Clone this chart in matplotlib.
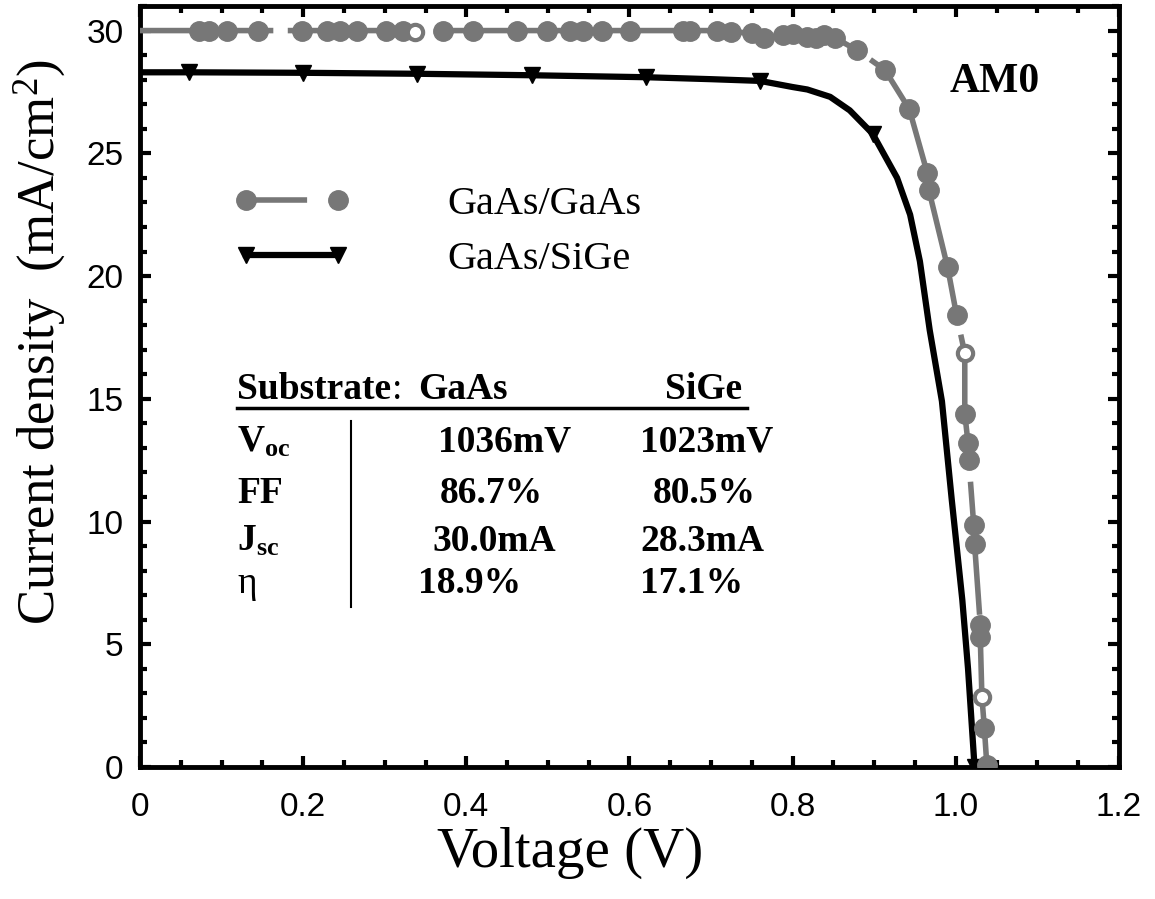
import matplotlib
matplotlib.use("Agg")
import matplotlib.pyplot as plt
from matplotlib.lines import Line2D

plt.rcParams['font.family'] = ['Liberation Sans', 'DejaVu Sans']
plt.rcParams['mathtext.fontset'] = 'custom'
plt.rcParams['mathtext.rm'] = 'Liberation Serif'
plt.rcParams['mathtext.bf'] = 'Liberation Serif:bold'
plt.rcParams['mathtext.it'] = 'Liberation Serif:italic'

# GaAs/GaAs cell
gaas_v = [0.0, 0.072, 0.084, 0.107, 0.145, 0.199, 0.229, 0.245, 0.266, 0.302,
          0.322, 0.337, 0.371, 0.408, 0.462, 0.499, 0.527, 0.543, 0.566, 0.601,
          0.666, 0.674, 0.707, 0.724, 0.750, 0.765, 0.788, 0.800, 0.818, 0.829,
          0.838, 0.852, 0.879, 0.913, 0.943, 0.965, 0.967, 0.990, 1.001, 1.011,
          1.011, 1.015, 1.016, 1.022, 1.023, 1.030, 1.030, 1.032, 1.035, 1.038]
gaas_j = [30.0, 30.0, 30.0, 30.0, 30.0, 30.0, 30.0, 30.0, 30.0, 30.0,
          30.0, 29.95, 30.0, 30.0, 30.0, 30.0, 30.0, 30.0, 30.0, 30.0,
          30.0, 30.0, 30.0, 29.95, 29.9, 29.7, 29.8, 29.85, 29.75, 29.7,
          29.8, 29.7, 29.2, 28.4, 26.8, 24.2, 23.5, 20.35, 18.4, 16.85,
          14.4, 13.2, 12.5, 9.85, 9.1, 5.8, 5.3, 2.85, 1.6, 0.1]
gaas_open = [11, 39, 47]   # hollow circles

# GaAs/SiGe cell
sige_v = [0.0, 0.06, 0.20, 0.34, 0.48, 0.62, 0.70, 0.76, 0.80, 0.818, 0.846,
          0.87, 0.898, 0.928, 0.944, 0.956, 0.968, 0.983, 0.995, 1.008, 1.015, 1.023]
sige_j = [28.3, 28.3, 28.28, 28.24, 28.18, 28.1, 28.02, 27.95, 27.7, 27.6, 27.3,
          26.75, 25.8, 24.0, 22.5, 20.6, 17.8, 14.9, 10.9, 6.8, 4.0, 0.0]
sige_marks = [1, 2, 3, 4, 5, 7, 12, 21]

xticks = [0, 0.2, 0.4, 0.6, 0.8, 1.0, 1.2]
xtick_labels = ['0', '0.2', '0.4', '0.6', '0.8', '1.0', '1.2']
yticks = [0, 5, 10, 15, 20, 25, 30]

# table
rows = [r'$\mathbf{V_{oc}}$', 'FF', r'$\mathbf{J_{sc}}$', 'η']
col_gaas = ['1036mV', '86.7%', '30.0mA', '18.9%']
col_sige = ['1023mV', '80.5%', '28.3mA', '17.1%']

gray = '#777777'
serif = 'Liberation Serif'

fig = plt.figure(figsize=(11.55, 8.99), dpi=100)
ax = fig.add_axes([0.1212, 0.1468, 0.8476, 0.8465])

mark_idx = [i for i in range(1, len(gaas_v)) if i not in gaas_open]
ax.plot(gaas_v, gaas_j, color=gray, lw=4, dashes=(24, 2.6), zorder=3)
ax.plot(gaas_v, gaas_j, ls='none', marker='o', ms=14, color=gray,
        markevery=mark_idx, zorder=4)
ax.plot(gaas_v, gaas_j, ls='none', marker='o', ms=11, mfc='white', mec=gray,
        mew=3, markevery=gaas_open, zorder=4)

ax.plot(sige_v, sige_j, color='black', lw=4.5, solid_capstyle='butt', zorder=2)
ax.plot(sige_v, sige_j, ls='none', marker='v', ms=12, color='black',
        markevery=sige_marks, zorder=2)

h1 = Line2D([], [], color=gray, lw=4, dashes=(11, 6), marker='o', ms=14)
h2 = Line2D([], [], color='black', lw=4.5, marker='v', ms=12)
ax.legend([h1, h2], ['GaAs/GaAs', 'GaAs/SiGe'], loc='upper left',
          bbox_to_anchor=(0.075, 0.79), frameon=False, numpoints=2,
          handlelength=2.9, handletextpad=2.42, labelspacing=0.45,
          borderpad=0, prop={'family': serif, 'size': 29})

ax.text(1.048, 27.9, 'AM0', family=serif, weight='bold', fontsize=30,
        ha='center', va='center')

# table
head_y = 14.66
sub = ax.text(0.119, head_y, 'Substrate', family=serif, weight='bold',
              fontsize=27, va='bottom')
ax.annotate(':', xy=(1, 0), xycoords=sub, xytext=(0.5, 0),
            textcoords='offset points', family=serif, fontsize=27,
            va='bottom', ha='left')
ax.text(0.341, head_y, 'GaAs', family=serif, weight='bold', fontsize=27, va='bottom')
ax.text(0.644, head_y, 'SiGe', family=serif, weight='bold', fontsize=27, va='bottom')
ax.plot([0.119, 0.744], [14.62, 14.62], color='black', lw=2.5)
ax.plot([0.259, 0.259], [14.1, 6.5], color='black', lw=1.5)

row_y = [12.85, 10.75, 8.8, 7.1]
gaas_x = [0.365, 0.368, 0.358, 0.341]
sige_x = [0.613, 0.628, 0.613, 0.613]
for i in range(4):
    if rows[i] == 'η':
        ax.text(0.119, row_y[i], rows[i], family=serif, fontsize=27)
    else:
        ax.text(0.119, row_y[i], rows[i], family=serif, weight='bold', fontsize=27)
    ax.text(gaas_x[i], row_y[i], col_gaas[i], family=serif, weight='bold', fontsize=27)
    ax.text(sige_x[i], row_y[i], col_sige[i], family=serif, weight='bold', fontsize=27)

ax.set_xlim(0, 1.2)
ax.set_ylim(0, 31)
ax.set_xticks(xticks)
ax.set_xticklabels(xtick_labels)
ax.set_yticks(yticks)
ax.set_xticks([i * 0.05 for i in range(25)], minor=True)
ax.set_yticks(range(32), minor=True)
ax.tick_params(which='both', direction='in', top=True, right=True, width=3,
               labelsize=24)
ax.tick_params(which='major', length=8)
ax.tick_params(which='minor', length=5)
ax.tick_params(axis='x', pad=18)
ax.tick_params(axis='y', pad=12)
for s in ax.spines.values():
    s.set_linewidth(3.5)

ax.set_xlabel('Voltage (V)', family=serif, fontsize=41)
ax.set_ylabel('Current density  (mA/cm$^2$)', family=serif, fontsize=38)
ax.xaxis.set_label_coords(0.439, -0.078)
ax.yaxis.set_label_coords(-0.074, 0.558)

fig.savefig('out.png', dpi=100)
